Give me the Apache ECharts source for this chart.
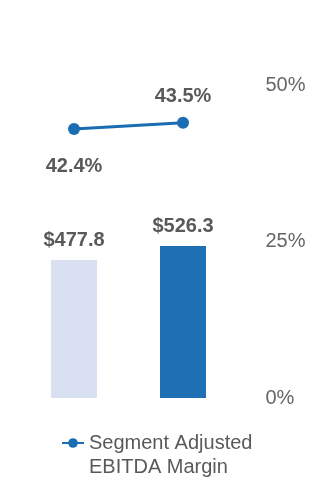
<!DOCTYPE html>
<html><head><meta charset="utf-8">
<script src="https://cdn.jsdelivr.net/npm/echarts@6/dist/echarts.min.js"></script>
<style>html,body{margin:0;padding:0;background:#fff}#c{width:330px;height:500px}</style>
</head><body><div id="c"></div>
<script>
var categories = ['Prior', 'Current'];
var ebitdaValues = [477.8, 526.3];
var marginValues = [42.4, 43.5];
var percentTicks = [0, 25, 50];
var barColors = ['#d9e0f1', '#1f6fb5'];
var lineName = 'Segment Adjusted\nEBITDA Margin';

var FONT = '"Liberation Sans", Arial, sans-serif';
var chart = echarts.init(document.getElementById('c'));
chart.setOption({
  animation: false,
  grid: { left: 19.5, right: 92.5, top: 85, bottom: 102 },
  legend: {
    data: [lineName],
    left: 56, top: 402,
    itemWidth: 22, itemHeight: 12,
    itemGap: 0,
    formatter: function (n) { return '\n' + n; },
    textStyle: { fontFamily: FONT, fontSize: 20, color: '#595959', lineHeight: 24 }
  },
  xAxis: {
    type: 'category', data: categories,
    axisLine: { show: false }, axisTick: { show: false }, axisLabel: { show: false }
  },
  yAxis: [
    { type: 'value', position: 'right', min: percentTicks[0], max: percentTicks[2], interval: 25,
      axisLine: { show: false }, axisTick: { show: false }, splitLine: { show: false },
      axisLabel: { margin: 28, fontFamily: FONT, fontSize: 20, color: '#666666', formatter: '{value}%' } },
    { type: 'value', min: 0, max: 1084, show: false },
    { type: 'value', min: -4, max: 50, show: false }
  ],
  series: [
    { type: 'bar', yAxisIndex: 1, barWidth: 46,
      data: ebitdaValues.map(function (v, i) { return { value: v, itemStyle: { color: barColors[i] } }; }),
      label: { show: true, position: 'top', distance: 10, fontFamily: FONT, fontSize: 20, fontWeight: 'bold', color: '#595959',
        formatter: function (p) { return '$' + p.value.toFixed(1); } } },
    { type: 'line', name: lineName, yAxisIndex: 2,
      symbol: 'circle', symbolSize: 12,
      lineStyle: { width: 3, color: '#1a6db3' }, itemStyle: { color: '#1a6db3' },
      label: { show: true, fontFamily: FONT, fontSize: 20, fontWeight: 'bold', color: '#595959',
        formatter: function (p) { return p.value.toFixed(1) + '%'; } },
      data: marginValues.map(function (v, i) {
        return { value: v, label: i === 0 ? { position: 'bottom', distance: 21 } : { position: 'top', distance: 10 } };
      })
    }
  ]
});
</script></body></html>
